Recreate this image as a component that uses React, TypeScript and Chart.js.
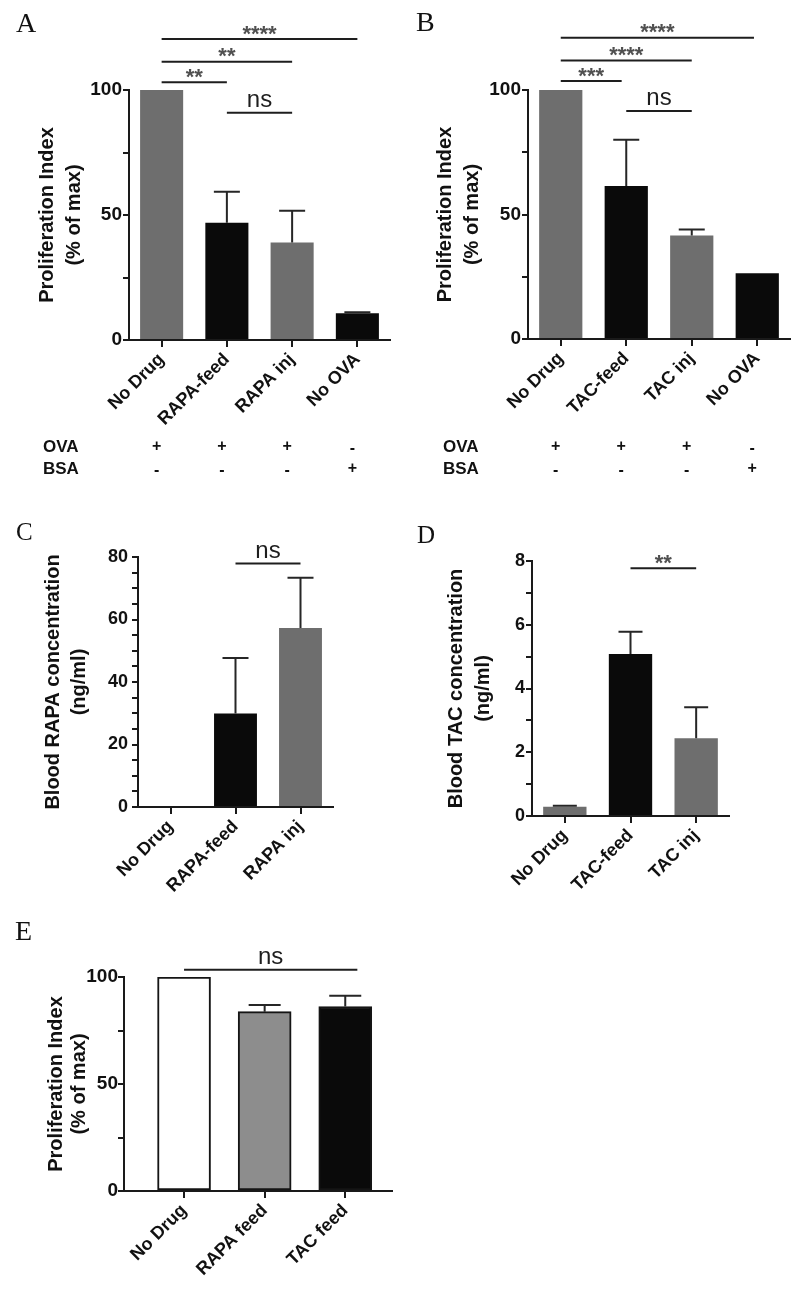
import React, { useEffect, useRef } from 'react';
import { Chart, registerables } from 'chart.js';

Chart.register(...registerables);

const GRAY = '#6e6e6e';
const LIGHT_GRAY = '#8d8d8d';
const BLACK = '#0a0a0a';
const WHITE = '#ffffff';

// ---------- Panel A ----------
const aLabels = ['No Drug', 'RAPA-feed', 'RAPA inj', 'No OVA'];
const aValues = [100, 46.9, 39.0, 10.7];
const aErrors = [0, 12.4, 12.7, 0.4];
const aColors = [GRAY, BLACK, GRAY, BLACK];
const aSig = [
  { from: 0, to: 3, y: 120.4, text: '****' },
  { from: 0, to: 2, y: 111.3, text: '**' },
  { from: 0, to: 1, y: 103.1, text: '**' },
  { from: 1, to: 2, y: 90.9, text: 'ns' },
];

// ---------- Panel B ----------
const bLabels = ['No Drug', 'TAC-feed', 'TAC inj', 'No OVA'];
const bValues = [100, 61.4, 41.6, 26.4];
const bErrors = [0, 18.6, 2.4, 0];
const bColors = [GRAY, BLACK, GRAY, BLACK];
const bSig = [
  { from: 0, to: 2.95, y: 121.0, text: '****' },
  { from: 0, to: 2, y: 111.8, text: '****' },
  { from: 0, to: 0.93, y: 103.6, text: '***' },
  { from: 1, to: 2, y: 91.6, text: 'ns' },
];

// ---------- OVA / BSA table (A and B) ----------
const tableRowLabels = ['OVA', 'BSA'];
const ovaRow = ['+', '+', '+', '-'];
const bsaRow = ['-', '-', '-', '+'];

// ---------- Panel C ----------
const cLabels = ['No Drug', 'RAPA-feed', 'RAPA inj'];
const cValues = [0, 29.9, 57.3];
const cErrors = [0, 17.8, 16.1];
const cColors = [GRAY, BLACK, GRAY];
const cSig = [{ from: 1, to: 2, y: 77.9, text: 'ns' }];

// ---------- Panel D ----------
const dLabels = ['No Drug', 'TAC-feed', 'TAC inj'];
const dValues = [0.29, 5.08, 2.44];
const dErrors = [0.03, 0.7, 0.97];
const dColors = [GRAY, BLACK, GRAY];
const dSig = [{ from: 1, to: 2, y: 7.77, text: '**' }];

// ---------- Panel E ----------
const eLabels = ['No Drug', 'RAPA feed', 'TAC feed'];
const eValues = [100, 83.8, 86.2];
const eErrors = [0, 3.1, 5.0];
const eColors = [WHITE, LIGHT_GRAY, BLACK];
const eSig = [{ from: 0, to: 2.15, y: 103.4, text: 'ns' }];

const SANS = "'Liberation Sans', Arial, Helvetica, sans-serif";
const SERIF = "'Liberation Serif', 'Times New Roman', serif";
const AX = '#1a1a1a';

type Sig = { from: number; to: number; y: number; text: string };

interface PanelCfg {
  letter: string;
  letterX: number;
  letterY: number;
  letterSize: number;
  left: number;
  top: number;
  width: number;
  height: number;
  area: { left: number; right: number; top: number; bottom: number };
  labels: string[];
  values: number[];
  errors: number[];
  colors: string[];
  sig: Sig[];
  yMax: number;
  yStep: number;
  yLabelStep: number;
  yTitle: string[];
  titlePad: number;
  titleLH: number;
  tickSize: number;
  tickPad: number;
  cap: number;
  table?: boolean;
  xRange?: { min: number; max: number };
  barThickness?: number;
  bordered?: boolean;
}

function makePlugin(cfg: PanelCfg) {
  return {
    id: 'annot' + cfg.letter,
    afterDatasetsDraw(chart: any) {
      const ctx = chart.ctx as CanvasRenderingContext2D;
      const ys = chart.scales.y;
      const meta = chart.getDatasetMeta(0);
      ctx.save();
      ctx.strokeStyle = '#262626';
      ctx.lineWidth = 2;
      cfg.errors.forEach((e, i) => {
        if (!(e > 0)) return;
        const bar = meta.data[i];
        const x = bar.x;
        const y0 = ys.getPixelForValue(cfg.values[i]);
        const y1 = ys.getPixelForValue(cfg.values[i] + e);
        ctx.beginPath();
        ctx.moveTo(x, y0);
        ctx.lineTo(x, y1);
        ctx.moveTo(x - cfg.cap, y1);
        ctx.lineTo(x + cfg.cap, y1);
        ctx.stroke();
      });
      ctx.restore();
    },
    afterDraw(chart: any) {
      const ctx = chart.ctx as CanvasRenderingContext2D;
      const xs = chart.scales.x;
      const ys = chart.scales.y;
      ctx.save();
      // significance bars
      cfg.sig.forEach((s) => {
        const x1 = xs.getPixelForValue(s.from);
        const x2 = xs.getPixelForValue(s.to);
        const yy = ys.getPixelForValue(s.y);
        ctx.strokeStyle = '#1e1e1e';
        ctx.lineWidth = 2;
        ctx.beginPath();
        ctx.moveTo(x1, yy);
        ctx.lineTo(x2, yy);
        ctx.stroke();
        const cx = (x1 + x2) / 2;
        ctx.textAlign = 'center';
        ctx.textBaseline = 'alphabetic';
        if (s.text.startsWith('*')) {
          ctx.font = `bold 22px ${SANS}`;
          ctx.fillStyle = '#505050';
          const m = ctx.measureText('*');
          const a = m.actualBoundingBoxAscent;
          const d = m.actualBoundingBoxDescent;
          const centerY = yy - 9;
          const base = centerY + (a - d) / 2;
          ctx.fillText(s.text, cx, base);
        } else {
          ctx.font = `24px ${SANS}`;
          ctx.fillStyle = '#1e1e1e';
          ctx.fillText(s.text, cx, yy - 6);
        }
      });
      // panel letter
      ctx.font = `${cfg.letterSize}px ${SERIF}`;
      ctx.fillStyle = '#111';
      ctx.textAlign = 'left';
      ctx.textBaseline = 'alphabetic';
      ctx.fillText(cfg.letter, cfg.letterX, cfg.letterY);
      // OVA/BSA table
      if (cfg.table) {
        const rows = [ovaRow, bsaRow];
        const rowY = [447, 469];
        rows.forEach((row, r) => {
          ctx.font = `bold 17px ${SANS}`;
          ctx.fillStyle = '#111';
          ctx.textAlign = 'left';
          ctx.textBaseline = 'middle';
          ctx.fillText(tableRowLabels[r], 43, rowY[r]);
          ctx.textAlign = 'center';
          ctx.font = `bold 16px ${SANS}`;
          row.forEach((mark, i) => {
            const px = xs.getPixelForValue(i) - 5;
            ctx.fillText(mark, px, rowY[r] + (mark === '-' ? 2 : 0));
          });
        });
      }
      ctx.restore();
    },
  };
}

function buildConfig(cfg: PanelCfg): any {
  const isLinear = !!cfg.xRange;
  const data = isLinear ? cfg.values.map((v, i) => ({ x: i, y: v })) : cfg.values;
  const a = cfg.area;
  const xAxis: any = {
    offset: !isLinear,
    grid: {
      display: true,
      drawOnChartArea: false,
      drawTicks: true,
      tickLength: 7,
      offset: false,
      color: AX,
      lineWidth: 2,
    },
    border: { display: true, color: AX, width: 2 },
    ticks: {
      autoSkip: false,
      minRotation: 45,
      maxRotation: 45,
      padding: 2,
      color: '#111',
      font: { family: SANS, size: 18, weight: 'bold' },
    },
    afterFit: (s: any) => {
      s.height = cfg.height - a.bottom;
    },
  };
  if (isLinear) {
    xAxis.type = 'linear';
    xAxis.min = cfg.xRange!.min;
    xAxis.max = cfg.xRange!.max;
    xAxis.bounds = 'data';
    xAxis.afterBuildTicks = (s: any) => {
      s.ticks = cfg.labels.map((_, i) => ({ value: i }));
    };
    xAxis.ticks.callback = (v: any) => cfg.labels[Math.round(Number(v))];
  } else {
    xAxis.type = 'category';
  }
  return {
    type: 'bar',
    data: {
      labels: isLinear ? undefined : cfg.labels,
      datasets: [
        {
          data,
          backgroundColor: cfg.colors,
          borderColor: cfg.bordered ? '#151515' : 'rgba(0,0,0,0)',
          borderWidth: cfg.bordered ? 2 : 0,
          borderSkipped: false,
          barPercentage: 0.66,
          categoryPercentage: 1,
          barThickness: cfg.barThickness,
        },
      ],
    },
    options: {
      responsive: false,
      animation: false,
      devicePixelRatio: 1,
      layout: {
        padding: { top: a.top, right: cfg.width - a.right, bottom: 0, left: 0 },
      },
      plugins: {
        legend: { display: false },
        tooltip: { enabled: false },
        title: { display: false },
      },
      scales: {
        x: xAxis,
        y: {
          type: 'linear',
          min: 0,
          max: cfg.yMax,
          grid: {
            display: true,
            drawOnChartArea: false,
            drawTicks: true,
            tickLength: 6,
            color: AX,
            lineWidth: 2,
          },
          border: { display: true, color: AX, width: 2 },
          ticks: {
            stepSize: cfg.yStep,
            maxTicksLimit: 100,
            autoSkip: false,
            padding: cfg.tickPad,
            color: '#111',
            font: { family: SANS, size: cfg.tickSize, weight: 'bold' },
            callback: (v: any) => {
              const n = Number(v);
              return Math.abs(n / cfg.yLabelStep - Math.round(n / cfg.yLabelStep)) < 1e-6 ? String(n) : '';
            },
          },
          title: {
            display: true,
            text: cfg.yTitle,
            color: '#111',
            font: { family: SANS, size: 20, weight: 'bold', lineHeight: cfg.titleLH },
            padding: { top: cfg.titlePad, bottom: 0 },
          },
          afterFit: (s: any) => {
            s.width = a.left;
          },
        },
      },
    },
    plugins: [makePlugin(cfg)],
  };
}

const panels: PanelCfg[] = [
  {
    letter: 'A', letterX: 16, letterY: 32, letterSize: 28,
    left: 0, top: 0, width: 400, height: 500,
    area: { left: 129, right: 390, top: 90, bottom: 340 },
    labels: aLabels, values: aValues, errors: aErrors, colors: aColors, sig: aSig,
    yMax: 100, yStep: 25, yLabelStep: 50,
    yTitle: ['Proliferation Index', '(% of max)'], titlePad: 34, titleLH: 1.35,
    tickSize: 19, tickPad: 1, cap: 13, table: true,
  },
  {
    letter: 'B', letterX: 16, letterY: 31, letterSize: 28,
    left: 400, top: 0, width: 400, height: 500,
    area: { left: 128, right: 390, top: 90, bottom: 339 },
    labels: bLabels, values: bValues, errors: bErrors, colors: bColors, sig: bSig,
    yMax: 100, yStep: 25, yLabelStep: 50,
    yTitle: ['Proliferation Index', '(% of max)'], titlePad: 32, titleLH: 1.35,
    tickSize: 19, tickPad: 1, cap: 13, table: true,
  },
  {
    letter: 'C', letterX: 16, letterY: 40, letterSize: 25,
    left: 0, top: 500, width: 400, height: 400,
    area: { left: 138, right: 333, top: 57, bottom: 307 },
    labels: cLabels, values: cValues, errors: cErrors, colors: cColors, sig: cSig,
    yMax: 80, yStep: 5, yLabelStep: 20,
    yTitle: ['Blood RAPA concentration', '(ng/ml)'], titlePad: 40, titleLH: 1.3,
    tickSize: 18, tickPad: 4, cap: 13,
  },
  {
    letter: 'D', letterX: 17, letterY: 43, letterSize: 25,
    left: 400, top: 500, width: 400, height: 400,
    area: { left: 132, right: 329, top: 61, bottom: 316 },
    labels: dLabels, values: dValues, errors: dErrors, colors: dColors, sig: dSig,
    yMax: 8, yStep: 1, yLabelStep: 2,
    yTitle: ['Blood TAC concentration', '(ng/ml)'], titlePad: 43, titleLH: 1.35,
    tickSize: 18, tickPad: 1, cap: 12,
  },
  {
    letter: 'E', letterX: 15, letterY: 40, letterSize: 28,
    left: 0, top: 900, width: 400, height: 401,
    area: { left: 124, right: 392, top: 77, bottom: 291 },
    labels: eLabels, values: eValues, errors: eErrors, colors: eColors, sig: eSig,
    yMax: 100, yStep: 25, yLabelStep: 50,
    yTitle: ['Proliferation Index', '(% of max)'], titlePad: 45, titleLH: 1.15,
    tickSize: 19, tickPad: 0, cap: 16,
    xRange: { min: -0.745, max: 2.58 }, barThickness: 53, bordered: true,
  },
];

function Panel({ cfg }: { cfg: PanelCfg }) {
  const ref = useRef<HTMLCanvasElement>(null);
  useEffect(() => {
    if (!ref.current) return;
    const chart = new Chart(ref.current, buildConfig(cfg));
    return () => chart.destroy();
  }, [cfg]);
  return (
    <canvas
      ref={ref}
      width={cfg.width}
      height={cfg.height}
      style={{
        position: 'absolute',
        left: cfg.left,
        top: cfg.top,
        width: cfg.width,
        height: cfg.height,
        display: 'block',
      }}
    />
  );
}

export default function App() {
  return (
    <div
      style={{
        position: 'absolute',
        left: 0,
        top: 0,
        width: 800,
        height: 1301,
        background: '#ffffff',
        overflow: 'hidden',
      }}
    >
      {panels.map((p) => (
        <Panel key={p.letter} cfg={p} />
      ))}
    </div>
  );
}
